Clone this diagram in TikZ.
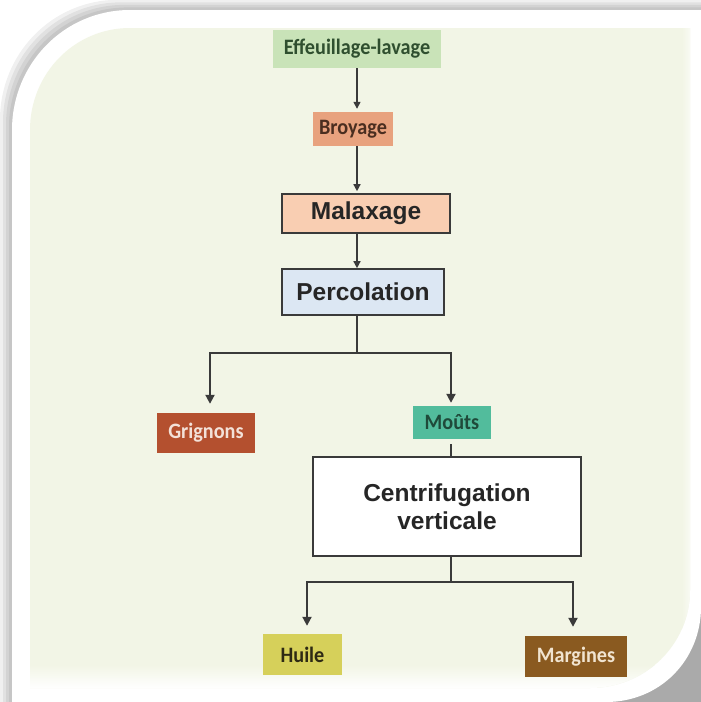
\documentclass[tikz,border=0pt]{standalone}
\usepackage{fontspec}
\setmainfont{Liberation Sans}
\newfontfamily\condfont[FakeStretch=0.92]{Carlito}
\usetikzlibrary{arrows.meta}
\definecolor{bgbeige}{HTML}{F2F5E6}
\definecolor{effgreen}{HTML}{C9E3B8}
\definecolor{efftext}{HTML}{2F4F2F}
\definecolor{broyfill}{HTML}{E8A27E}
\definecolor{broytext}{HTML}{4A2E20}
\definecolor{malfill}{HTML}{F9CEB2}
\definecolor{percfill}{HTML}{DCE7F3}
\definecolor{grigfill}{HTML}{B4502F}
\definecolor{grigtext}{HTML}{F3E1D8}
\definecolor{moutfill}{HTML}{52BC9C}
\definecolor{mouttext}{HTML}{1F4A3A}
\definecolor{huilefill}{HTML}{D6D05A}
\definecolor{huiletext}{HTML}{2E2A14}
\definecolor{margfill}{HTML}{8A5A20}
\definecolor{margtext}{HTML}{F1E4D0}
\definecolor{linecol}{HTML}{3A3A3A}
\tikzset{
  smalllabel/.style={inner sep=0pt, font=\condfont\bfseries\fontsize{22}{24}\selectfont},
  bigbox/.style={inner sep=0pt, draw=linecol, line width=1.6pt, font=\bfseries\fontsize{24.5}{28}\selectfont, text=black!85, align=center},
  thinarrow/.style={draw=linecol, line width=1.4pt, -{Triangle[width=7pt,length=7pt]}},
  thickline/.style={draw=linecol, line width=2.4pt},
  thickarrow/.style={draw=linecol, line width=2pt, -{Triangle[width=9pt,length=9pt]}}
}
\begin{document}
\begin{tikzpicture}[x=1pt,y=-1pt]
\useasboundingbox (0,0) rectangle (701,702);
% page background
\fill[white] (0,0) rectangle (701,702);
\fill[gray!28] (560,560) rectangle (701,702);
% soft shadow up-left of the frame
\foreach \k in {12,9,6,3}{
  \fill[black, opacity=0.06, shift={(-\k,-0.85*\k)}]
    (12,720) -- (12,130) .. controls (12,64) and (64,10) .. (130,10) -- (720,10) -- (720,720) -- cycle;
}
% white frame
\fill[white] (12,702) -- (12,130) .. controls (12,64) and (64,10) .. (130,10) -- (701,10) -- (701,607)
  .. controls (701,660) and (660,702) .. (606,702) -- cycle;
% beige panel
\begin{scope}
\clip (30,688) -- (30,130) .. controls (30,74) and (74,28) .. (130,28) -- (690,28) -- (690,590)
  .. controls (690,645) and (645,688) .. (590,688) -- cycle;
\fill[bgbeige] (0,0) rectangle (701,702);
\shade[top color=bgbeige, bottom color=white, draw=none] (0,665) rectangle (701,689);
\shade[left color=bgbeige, right color=white!60!bgbeige, draw=none] (682,0) rectangle (691,702);
\end{scope}

% nodes
\node[smalllabel, fill=effgreen, text=efftext, minimum width=168pt, minimum height=38pt] (eff) at (357,49) {Effeuillage-lavage};
\node[smalllabel, fill=broyfill, text=broytext, minimum width=80pt, minimum height=34pt] (broy) at (353,129) {Broyage};
\node[bigbox, fill=malfill, minimum width=168pt, minimum height=39pt] (malax) at (366,213.5) {Malaxage};
\node[bigbox, fill=percfill, minimum width=162pt, minimum height=46pt] (perc) at (363,292) {Percolation};
\node[smalllabel, fill=grigfill, text=grigtext, minimum width=98pt, minimum height=40pt] (grig) at (206,433) {Grignons};
\node[smalllabel, fill=moutfill, text=mouttext, minimum width=78pt, minimum height=33pt] (mouts) at (452,422.5) {Moûts};
\node[bigbox, fill=white, minimum width=268pt, minimum height=99pt] (centri) at (447,506.5) {Centrifugation\\verticale};
\node[smalllabel, fill=huilefill, text=huiletext, minimum width=79pt, minimum height=41pt] (huile) at (302.5,654.5) {Huile};
\node[smalllabel, fill=margfill, text=margtext, minimum width=102pt, minimum height=41pt] (marg) at (576,656.5) {Margines};

% junction coordinates
\coordinate (j1) at (357,353);
\coordinate (bl) at (210,353);
\coordinate (br) at (451,353);
\coordinate (j2) at (451,582);
\coordinate (hl) at (307,582);
\coordinate (hr) at (573,582);

% top chain
\draw[thinarrow, shorten >=3pt] (eff.south) -- (eff.south |- broy.north);
\draw[thinarrow, shorten >=2pt] (eff.south |- broy.south) -- (eff.south |- malax.north);
\draw[thinarrow] (eff.south |- malax.south) -- (eff.south |- perc.north);

% percolation branch
\draw[thickline] (j1 |- perc.south) -- (j1);
\draw[thickline, line cap=rect] (bl) -- (br);
\draw[thickarrow, shorten >=9pt] (bl) -- (bl |- grig.north);
\draw[thickarrow, shorten >=3pt] (br) -- (br |- mouts.north);

% mouts to centrifugation
\draw[draw=linecol, line width=1.4pt, shorten <=5pt] (br |- mouts.south) -- (br |- centri.north);

% centrifugation branch
\draw[thickline] (j2 |- centri.south) -- (j2);
\draw[thickline, line cap=rect] (hl) -- (hr);
\draw[thickarrow, shorten >=8pt] (hl) -- (hl |- huile.north);
\draw[thickarrow, shorten >=9pt] (hr) -- (hr |- marg.north);
\end{tikzpicture}
\end{document}
